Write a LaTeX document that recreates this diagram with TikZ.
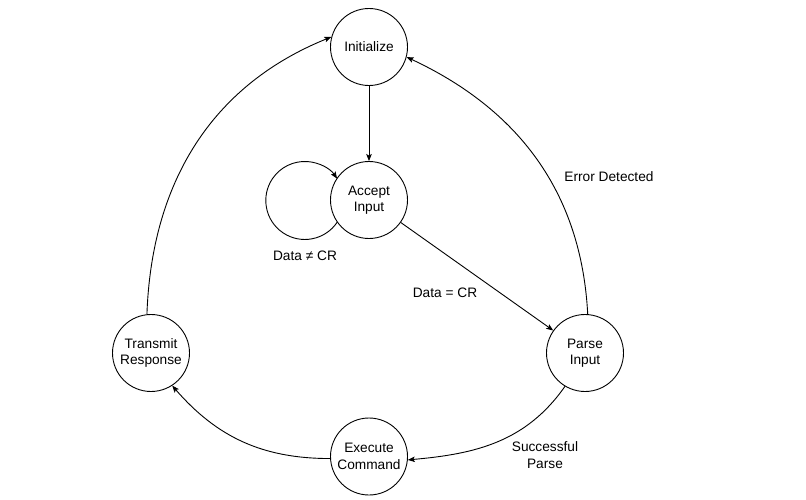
\documentclass[tikz,border=0pt]{standalone}
\usepackage{fontspec}
\setmainfont{Liberation Sans}
\usetikzlibrary{arrows.meta}
\begin{document}
\begin{tikzpicture}[x=1pt,y=1pt,
  every node/.style={font=\fontsize{13.7}{16.5}\selectfont},
  state/.style={draw=black,line width=0.9pt,circle,minimum size=77pt,inner sep=0pt,align=center,fill=white},
  edge/.style={draw=black,line width=0.9pt,-{Stealth[length=7pt,width=5.5pt,inset=1.5pt]}},
  lbl/.style={align=center,inner sep=1pt}]
\useasboundingbox[fill=white] (0,0) rectangle (806,499);
\node[state] (I) at (369,452) {Initialize};
\node[state] (A) at (369,299) {Accept\\Input};
\node[state] (P) at (585,146) {Parse\\Input};
\node[state] (T) at (151,146) {Transmit\\Response};
\node[state] (E) at (369,42.5) {Execute\\Command};

\draw[edge] (I) -- (A);
\draw[edge] (A) -- (P);
\draw[edge] (A.215.8) arc[start angle=-34.1,end angle=-325.9,radius=39pt];
\draw[edge] (P.86) to[out=93,in=-25] (I.-15);
\draw[edge] (T.96) to[out=88,in=-158] (I.165);
\draw[edge] (P.-121) to[out=-125,in=5] (E.-5);
\draw[edge] (E.183) to[out=180,in=-49] (T.-57);

\node[lbl] (l1) at (305,243) {Data ≠ CR};
\node[lbl] (l2) at (445,206) {Data = CR};
\node[lbl] (l3) at (609,322) {Error Detected};
\node[lbl] (l4) at (545,44) {Successful\\Parse};
\end{tikzpicture}
\end{document}
